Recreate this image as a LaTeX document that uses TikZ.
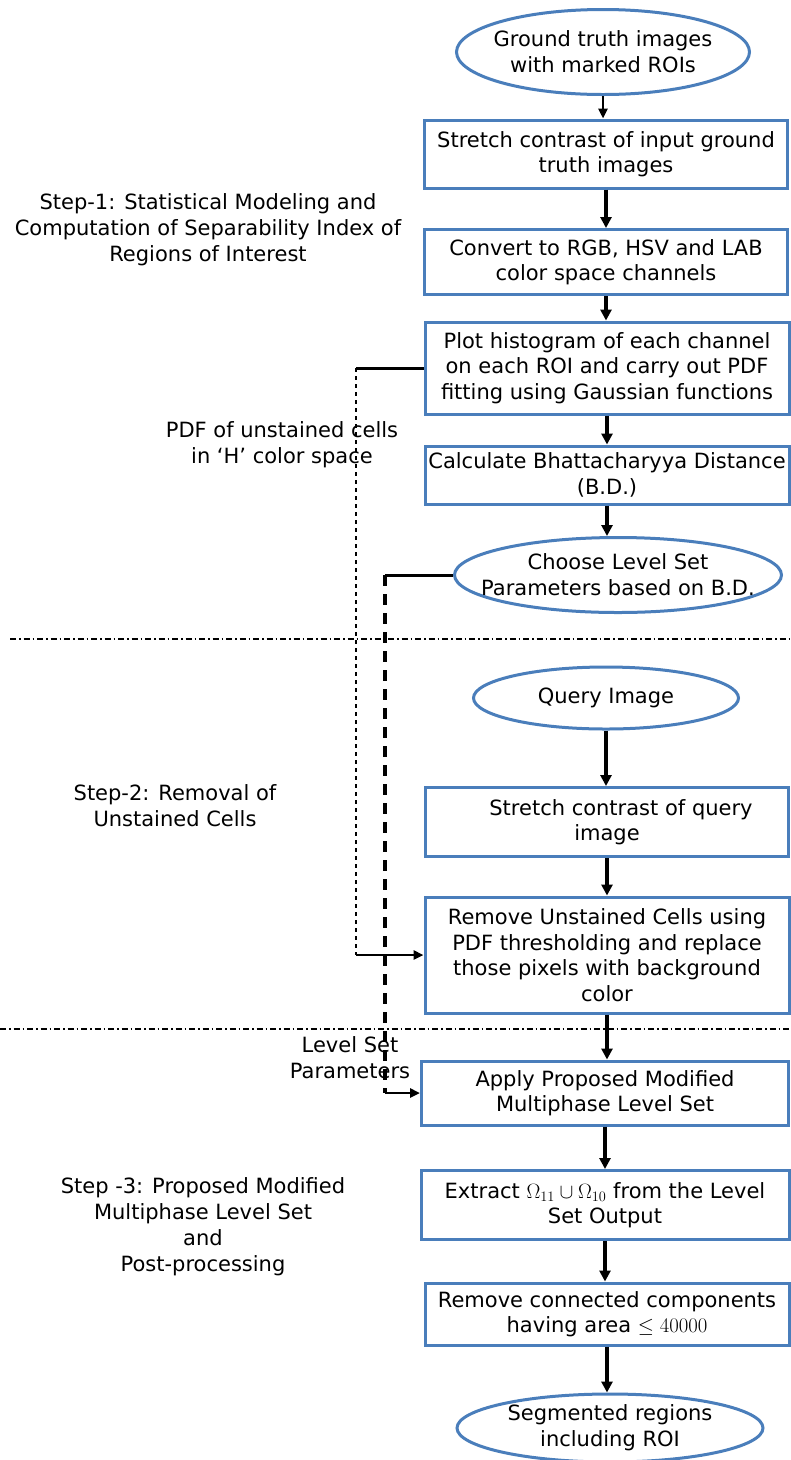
\documentclass[tikz,border=0pt]{standalone}
\usepackage{fontspec}
\setmainfont{DejaVu Sans}
\usetikzlibrary{shapes.geometric, arrows.meta, calc}
\definecolor{borda}{RGB}{74,126,187}
\tikzset{
  bx/.style = {draw=borda, line width=3pt, fill=white, align=center,
    inner sep=2pt, font=\fontsize{21}{25.5}\selectfont},
  el/.style = {ellipse, draw=borda, line width=3pt, fill=white,
    inner sep=0pt},
  rot/.style = {align=center, font=\fontsize{21}{26}\selectfont},
  lig/.style = {line width=3pt},
  seta/.style = {-{Triangle[length=11pt, width=11pt]}, line width=3.2pt},
  setafina/.style = {-{Triangle[length=10pt, width=9pt]}, line width=2.5pt},
  pontos/.style = {line width=1.5pt, dash pattern=on 4pt off 4pt},
  tracos/.style = {line width=3.2pt, dash pattern=on 11pt off 8pt},
  sep/.style = {line width=1.5pt, dash pattern=on 6pt off 3pt on 1.5pt off 3pt}
}

\begin{document}
\begin{tikzpicture}[x=1pt, y=-1pt]
  \useasboundingbox (0,0) rectangle (791,1460);
  % step 1
  \node [el, minimum width=293pt, minimum height=85pt,
    label={[rot]center:Ground truth images\\with marked ROIs}] (e1) at (603,52) {};
  \node [bx, minimum width=363pt, minimum height=68pt] (b1) at (606,154)
    {Stretch contrast of input ground\\truth images};
  \node [bx, minimum width=363pt, minimum height=65pt] (b2) at (606,262)
    {Convert to RGB, HSV and LAB\\color space channels};
  \node [bx, minimum width=364pt, minimum height=92pt] (b3) at (607,368)
    {Plot histogram of each channel\\on each ROI and carry out PDF\\fitting using Gaussian functions};
  \node [bx, minimum width=364pt, minimum height=58pt] (b4) at (607,475)
    {Calculate Bhattacharyya Distance\\(B.D.)};
  \node [el, minimum width=327pt, minimum height=75pt,
    label={[rot]center:Choose Level Set\\Parameters based on B.D.}] (e2) at (618,575) {};
  % step 2
  \node [el, minimum width=265pt, minimum height=62pt,
    label={[rot]center:Query Image}] (e3) at (606,698) {};
  \node [bx, minimum width=363pt, minimum height=69pt] (b5) at (607,822)
    {\hspace*{28pt}Stretch contrast of query\\image};
  \node [bx, minimum width=364pt, minimum height=116pt] (b6) at (607,955)
    {Remove Unstained Cells using\\PDF thresholding and replace\\those pixels with background\\color};
  % step 3
  \node [bx, minimum width=367pt, minimum height=64pt] (b7) at (605,1093)
    {Apply Proposed Modified\\Multiphase Level Set};
  \node [bx, minimum width=368pt, minimum height=69pt] (b8) at (605,1205)
    {Extract $\Omega_{11}\cup\Omega_{10}$ from the Level\\Set Output};
  \node [bx, minimum width=364pt, minimum height=62pt] (b9) at (607,1314)
    {Remove connected components\\having area $\leq 40000$};
  \node [el, minimum width=306pt, minimum height=68pt,
    label={[rot]center:Segmented regions\\including ROI}] (e4) at (610,1428) {};
  % left texts
  \node [rot] (s1) at (208,230) {Step-1: Statistical Modeling and\\Computation of Separability Index of\\Regions of Interest};
  \node [rot] (pdf) at (282,445) {PDF of unstained cells\\in ‘H’ color space};
  \node [rot] (s2) at (175,806) {Step-2: Removal of\\Unstained Cells};
  \node [rot] (lvl) at (350,1058) {Level Set\\Parameters};
  \node [rot] (s3) at (203,1227) {Step -3: Proposed Modified\\Multiphase Level Set\\and\\Post-processing};
  % separators
  \draw [sep] (10,639) -- (791,639);
  \draw [sep] (0,1029) -- (791,1029);
  % main flow
  \draw [setafina] (e1.south) -- (e1.south |- b1.north);
  \foreach \a/\b in {b1/b2, b2/b3, b3/b4, b4/e2, e3/b5, b5/b6, b6/b7, b7/b8, b8/b9, b9/e4}
    \draw [seta] (\a.south) -- (\a.south |- \b.north);
  % side links
  \coordinate (k1) at (356,0);
  \coordinate (k2) at (385,0);
  \draw [lig] (b3.west) -- (b3.west -| k1);
  \draw [pontos] (b3.west -| k1) -- (b6.west -| k1);
  \draw [setafina] (b6.west -| k1) -- (b6.west);
  \draw [lig] (e2.west) -- (e2.west -| k2);
  \draw [tracos] (e2.west -| k2) -- (b7.west -| k2);
  \draw [setafina] (b7.west -| k2) -- (b7.west);
\end{tikzpicture}
\end{document}
